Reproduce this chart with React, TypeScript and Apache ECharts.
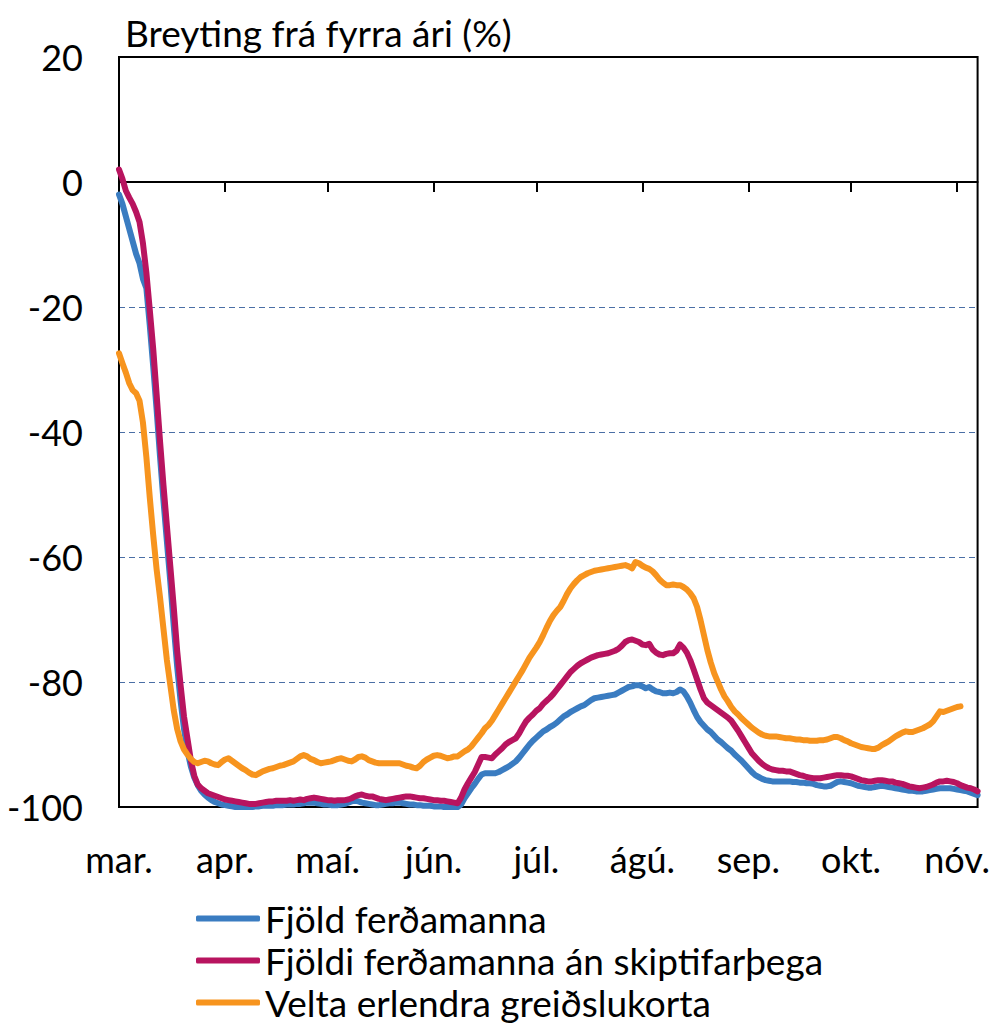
import React, { useEffect, useRef } from "react";
import * as echarts from "echarts";

// ---- data ----
const startYear = 2020;
const startMonthIndex = 2; // March
const dayCount = 252;
const monthNames = ["jan.", "feb.", "mar.", "apr.", "maí.", "jún.", "júl.", "ágú.", "sep.", "okt.", "nóv.", "des."];

const titleText = "Breyting frá fyrra ári (%)";
const seriesNames = [
  "Fjöld ferðamanna",
  "Fjöldi ferðamanna án skiptifarþega",
  "Velta erlendra greiðslukorta",
];

// Fjöld ferðamanna (daily, from 1 March)
const fjoldFerdamanna: (number | null)[] = [
  -2.0, -3.5, -5.5, -7.5, -9.5, -11.5, -13.0, -15.5, -17.0, -23.0,
  -29.5, -36.5, -44.0, -51.0, -57.5, -64.0, -71.0, -77.5, -83.0, -87.5,
  -91.0, -93.5, -95.3, -96.5, -97.4, -98.0, -98.5, -98.9, -99.2, -99.4,
  -99.6, -99.7, -99.8, -99.9, -100, -100, -100, -100, -100, -100,
  -99.9, -99.9, -99.8, -99.8, -99.8, -99.8, -99.7, -99.7, -99.7, -99.6,
  -99.6, -99.6, -99.5, -99.5, -99.4, -99.3, -99.3, -99.3, -99.4, -99.5,
  -99.6, -99.6, -99.7, -99.7, -99.7, -99.6, -99.5, -99.3, -99.1, -99.0,
  -99.1, -99.3, -99.4, -99.5, -99.6, -99.7, -99.7, -99.6, -99.5, -99.4,
  -99.4, -99.3, -99.3, -99.4, -99.5, -99.6, -99.6, -99.7, -99.7, -99.8,
  -99.8, -99.8, -99.9, -99.9, -99.9, -100, -100, -100, -100, -100,
  -99.6, -98.6, -97.8, -97.0, -96.3, -95.5, -94.8, -94.6, -94.6, -94.6,
  -94.6, -94.4, -94.1, -93.8, -93.5, -93.1, -92.7, -92.1, -91.4, -90.7,
  -90.0, -89.4, -88.9, -88.4, -87.9, -87.6, -87.2, -86.9, -86.5, -86.0,
  -85.5, -85.2, -84.8, -84.5, -84.2, -83.9, -83.7, -83.3, -82.9, -82.6,
  -82.5, -82.4, -82.3, -82.2, -82.1, -82.0, -81.7, -81.4, -81.1, -80.8,
  -80.7, -80.5, -80.5, -80.7, -81.0, -80.8, -81.2, -81.5, -81.6, -81.8,
  -81.8, -81.7, -81.8, -81.6, -81.2, -81.5, -82.3, -83.3, -84.5, -85.6,
  -86.4, -87.0, -87.6, -88.0, -88.6, -89.2, -89.6, -90.1, -90.6, -91.0,
  -91.6, -92.1, -92.6, -93.2, -93.8, -94.4, -94.9, -95.2, -95.5, -95.7,
  -95.8, -95.9, -95.9, -95.9, -95.9, -95.9, -95.9, -96.0, -96.0, -96.1,
  -96.1, -96.2, -96.2, -96.3, -96.5, -96.6, -96.7, -96.7, -96.6, -96.3,
  -96.0, -95.9, -96.0, -96.1, -96.2, -96.4, -96.6, -96.7, -96.8, -96.9,
  -96.9, -96.8, -96.7, -96.6, -96.7, -96.8, -96.9, -97.0, -97.1, -97.2,
  -97.3, -97.4, -97.4, -97.5, -97.5, -97.5, -97.4, -97.3, -97.2, -97.1,
  -97.0, -97.0, -97.0, -97.0, -97.1, -97.2, -97.3, -97.4, -97.5, -97.7,
  -97.9, -98.1,
];

// Fjöldi ferðamanna án skiptifarþega
const fjoldiAnSkiptifarthega: (number | null)[] = [
  2.0, 0.5, -1.4, -2.5, -3.5, -4.8, -6.4, -9.8, -14.5, -20.5,
  -26.7, -34.0, -41.5, -48.5, -55.0, -61.5, -68.0, -75.0, -80.5, -85.5,
  -89.0, -92.5, -95.0, -96.4, -97.0, -97.4, -97.8, -98.0, -98.2, -98.4,
  -98.6, -98.8, -98.9, -99.0, -99.1, -99.2, -99.3, -99.4, -99.5, -99.5,
  -99.5, -99.4, -99.3, -99.2, -99.1, -99.1, -99.0, -99.0, -99.0, -99.0,
  -98.9, -99.0, -98.9, -98.8, -98.9, -98.7, -98.6, -98.5, -98.6, -98.7,
  -98.8, -98.9, -98.9, -99.0, -98.9, -98.9, -98.9, -98.8, -98.6, -98.3,
  -98.1, -98.0, -98.2, -98.3, -98.3, -98.5, -98.7, -98.8, -98.9, -98.8,
  -98.7, -98.6, -98.5, -98.4, -98.3, -98.3, -98.4, -98.5, -98.6, -98.6,
  -98.7, -98.8, -98.9, -98.9, -99.0, -99.0, -99.1, -99.2, -99.3, -99.4,
  -98.5, -97.2, -96.2, -95.3, -94.4, -93.2, -92.0, -92.0, -92.1, -92.2,
  -91.6, -91.1, -90.6, -90.0, -89.6, -89.3, -89.0, -88.2, -87.2, -86.3,
  -85.7, -85.2, -84.6, -84.2, -83.5, -83.0, -82.5, -81.9, -81.2, -80.5,
  -79.8, -79.1, -78.4, -77.9, -77.4, -77.0, -76.7, -76.4, -76.1, -75.9,
  -75.7, -75.6, -75.5, -75.4, -75.2, -75.0, -74.7, -74.2, -73.6, -73.3,
  -73.2, -73.4, -73.6, -74.0, -74.1, -73.9, -74.8, -75.3, -75.6, -75.7,
  -75.5, -75.4, -75.4, -75.0, -74.0, -74.5, -75.3, -76.5, -78.0, -79.6,
  -81.2, -82.6, -83.3, -83.7, -84.1, -84.5, -84.9, -85.3, -85.7, -86.2,
  -87.0, -87.8, -88.7, -89.6, -90.5, -91.4, -92.0, -92.6, -93.1, -93.5,
  -93.8, -94.0, -94.1, -94.2, -94.2, -94.3, -94.3, -94.5, -94.7, -94.9,
  -95.0, -95.2, -95.3, -95.4, -95.4, -95.4, -95.3, -95.2, -95.1, -95.0,
  -94.9, -94.9, -95.0, -95.0, -95.1, -95.3, -95.5, -95.7, -95.8, -95.9,
  -95.9, -95.8, -95.7, -95.7, -95.8, -95.9, -95.9, -96.1, -96.2, -96.3,
  -96.5, -96.7, -96.8, -96.9, -97.0, -96.9, -96.8, -96.6, -96.4, -96.1,
  -95.9, -95.9, -95.8, -95.9, -96.0, -96.2, -96.5, -96.7, -96.9, -97.0,
  -97.2, -97.5,
];

// Velta erlendra greiðslukorta
const veltaGreidslukorta: (number | null)[] = [
  -27.4, -29.0, -30.5, -32.2, -33.3, -33.8, -35.0, -38.5, -44.0, -50.5,
  -56.5, -62.0, -66.5, -71.5, -76.5, -80.5, -84.5, -87.5, -89.5, -90.8,
  -91.6, -92.3, -92.8, -93.0, -92.8, -92.6, -92.7, -93.0, -93.2, -93.3,
  -92.8, -92.4, -92.2, -92.6, -93.0, -93.4, -93.8, -94.1, -94.5, -94.8,
  -94.9, -94.6, -94.3, -94.1, -93.9, -93.8, -93.6, -93.4, -93.3, -93.1,
  -92.9, -92.7, -92.3, -91.9, -91.7, -91.9, -92.3, -92.5, -92.8, -93.0,
  -92.9, -92.8, -92.7, -92.5, -92.3, -92.2, -92.4, -92.6, -92.7, -92.4,
  -92.0, -91.9, -92.1, -92.5, -92.7, -92.9, -93.0, -93.0, -93.0, -93.0,
  -93.0, -93.0, -93.0, -93.2, -93.4, -93.5, -93.7, -93.8, -93.4, -92.8,
  -92.4, -92.1, -91.8, -91.7, -91.8, -92.0, -92.2, -92.1, -91.9, -91.9,
  -91.5, -91.1, -90.8, -90.3, -89.6, -88.9, -88.2, -87.4, -86.9, -86.2,
  -85.3, -84.4, -83.5, -82.6, -81.7, -80.8, -79.9, -79.0, -78.1, -77.1,
  -76.1, -75.3, -74.5, -73.6, -72.5, -71.3, -70.2, -69.3, -68.6, -68.0,
  -67.0, -65.9, -65.0, -64.3, -63.7, -63.2, -62.9, -62.6, -62.4, -62.2,
  -62.1, -62.0, -61.9, -61.8, -61.7, -61.6, -61.5, -61.4, -61.3, -61.5,
  -61.8, -60.8, -61.0, -61.4, -61.7, -61.9, -62.3, -62.9, -63.6, -64.1,
  -64.5, -64.5, -64.4, -64.5, -64.5, -64.8, -65.2, -65.8, -66.6, -68.0,
  -70.1, -72.5, -74.9, -76.9, -78.6, -79.9, -81.2, -82.3, -83.1, -84.0,
  -84.7, -85.2, -85.8, -86.3, -86.8, -87.3, -87.7, -88.1, -88.4, -88.6,
  -88.7, -88.7, -88.7, -88.8, -88.9, -89.0, -89.0, -89.1, -89.2, -89.2,
  -89.3, -89.3, -89.4, -89.4, -89.4, -89.3, -89.3, -89.2, -89.0, -88.8,
  -88.8, -89.0, -89.3, -89.5, -89.8, -90.0, -90.2, -90.4, -90.5, -90.6,
  -90.7, -90.7, -90.5, -90.1, -89.8, -89.5, -89.1, -88.7, -88.4, -88.1,
  -87.9, -88.0, -88.0, -87.8, -87.6, -87.4, -87.1, -86.8, -86.3, -85.5,
  -84.7, -84.8, -84.6, -84.4, -84.2, -84.0, -83.9, null, null, null,
  null, null,
];

const seriesColors = ["#3A7CC1", "#B8145F", "#F7941E"];
const gridLineColor = "#4A6FA5";

// category dates (one per day)
function makeDates(): string[] {
  const out: string[] = [];
  const t0 = Date.UTC(startYear, startMonthIndex, 1);
  for (let i = 0; i < dayCount; i++) {
    out.push(new Date(t0 + i * 86400000).toISOString().slice(0, 10));
  }
  return out;
}
const dates = makeDates();
const isMonthStart = (_i: number, v: string) => String(v).slice(8, 10) === "01";
const monthLabel = (v: string) => monthNames[Number(String(v).slice(5, 7)) - 1];

const FONT = "Lato, 'Open Sans', sans-serif";
const FS = 36;
const FS_TEXT = 37;

export default function App() {
  const ref = useRef<HTMLDivElement>(null);
  useEffect(() => {
    if (!ref.current) return;
    const chart = echarts.init(ref.current, undefined, { renderer: "svg" });
    const values = [fjoldFerdamanna, fjoldiAnSkiptifarthega, veltaGreidslukorta];
    const option: any = {
      animation: false,
      backgroundColor: "#fff",
      textStyle: { fontFamily: FONT },
      title: {
        text: titleText,
        left: 125,
        top: 14,
        padding: 0,
        textStyle: { fontFamily: FONT, fontSize: FS_TEXT, fontWeight: "normal", color: "#000" },
      },
      legend: {
        orient: "vertical",
        left: 196,
        top: 900,
        height: 140,
        padding: 0,
        itemWidth: 64,
        itemHeight: 6,
        itemGap: 5,
        icon: "roundRect",
        selectedMode: false,
        data: seriesNames,
        textStyle: { fontFamily: FONT, fontSize: FS_TEXT, color: "#000" },
      },
      grid: {
        left: 119,
        right: 15,
        top: 57,
        bottom: 219,
        show: true,
        borderColor: "#000",
        borderWidth: 2,
        backgroundColor: "transparent",
      },
      xAxis: [
        {
          type: "category",
          data: dates,
          boundaryGap: false,
          position: "bottom",
          axisLine: { show: false, onZero: false },
          axisTick: { show: false },
          axisLabel: {
            interval: isMonthStart,
            formatter: monthLabel,
            fontFamily: FONT,
            fontSize: FS,
            color: "#000",
            margin: 34,
          },
          splitLine: { show: false },
        },
        {
          type: "category",
          data: dates,
          boundaryGap: false,
          position: "bottom",
          axisLine: { show: true, onZero: true, onZeroAxisIndex: 0, lineStyle: { color: "#000", width: 2 } },
          axisTick: { show: true, interval: isMonthStart, length: 10, inside: false, lineStyle: { color: "#000", width: 2 } },
          axisLabel: { show: false },
          splitLine: { show: false },
        },
      ],
      yAxis: {
        type: "value",
        min: -100,
        max: 20,
        interval: 20,
        axisLine: { show: true, lineStyle: { color: "#000", width: 2 } },
        axisTick: { show: false },
        axisLabel: { fontFamily: FONT, fontSize: FS, color: "#000", margin: 36 },
        splitLine: {
          show: true,
          showMinLine: false,
          showMaxLine: false,
          lineStyle: { color: gridLineColor, type: [6, 4], width: 1 },
        },
      },
      series: seriesNames.map((name, i) => ({
        name,
        type: "line",
        data: values[i],
        xAxisIndex: 0,
        yAxisIndex: 0,
        showSymbol: false,
        symbol: "none",
        connectNulls: false,
        z: 2 + i,
        lineStyle: { width: 6, color: seriesColors[i], cap: "round", join: "round" },
        itemStyle: { color: seriesColors[i] },
        emphasis: { disabled: true },
      })),
    };
    chart.setOption(option);
    return () => chart.dispose();
  }, []);
  return (
    <div
      ref={ref}
      style={{ position: "absolute", left: 0, top: 0, width: 993, height: 1026, background: "#fff" }}
    />
  );
}
